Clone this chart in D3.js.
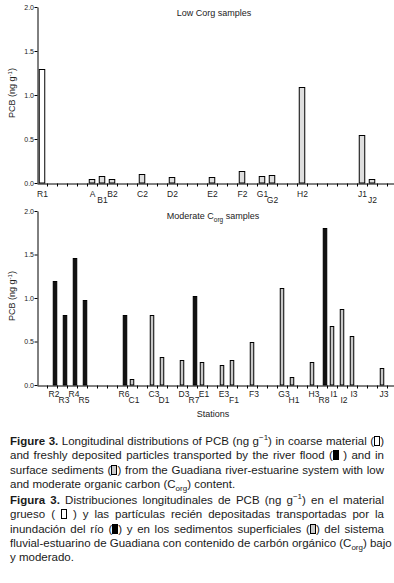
<!DOCTYPE html>
<html>
<head>
<meta charset="utf-8">
<script src="https://cdn.jsdelivr.net/npm/d3@7"></script>
<style>
    body { margin: 0; background: #fff; width: 394px; height: 583px; overflow: hidden; position: relative; color: #1a1a1a; }
    svg { position: absolute; left: 0; top: 0; font-family: "Liberation Sans", Arial, sans-serif; }
    .cap { position: absolute; left: 10px; width: 374px; font-family: "Liberation Sans Narrow", "Arial Narrow", "Liberation Sans", sans-serif; font-size: 11.5px; line-height: 14.3px; }
    .cap div { text-align: justify; text-align-last: justify; white-space: nowrap; }
    .cap div.last { text-align-last: left; }
    .cap sup, .cap sub { font-size: 8px; line-height: 0; }
    .bx { display: inline-block; width: 4px; height: 8px; border: 1px solid #000; vertical-align: -1px; }
</style>
</head>
<body>
<svg id="chart" width="394" height="430"></svg>

<div class="cap" style="top:434px">
    <div><b>Figure 3.</b> Longitudinal distributions of PCB (ng g<sup>−1</sup>) in coarse material (<span class="bx" style="background:#fff"></span>)</div>
    <div>and freshly deposited particles transported by the river flood (<span class="bx" style="background:#000"></span> ) and in</div>
    <div>surface sediments (<span class="bx" style="background:#ccc"></span>) from the Guadiana river-estuarine system with low</div>
    <div class="last">and moderate organic carbon (C<sub>org</sub>) content.</div>
</div>
<div class="cap" style="top:493px">
    <div><b>Figura 3.</b> Distribuciones longitudinales de PCB (ng g<sup>−1</sup>) en el material</div>
    <div>grueso ( <span class="bx" style="background:#fff"></span> ) y las partículas recién depositadas transportadas por la</div>
    <div>inundación del río (<span class="bx" style="background:#000"></span>) y en los sedimentos superficiales (<span class="bx" style="background:#ccc"></span>) del sistema</div>
    <div>fluvial-estuarino de Guadiana con contenido de carbón orgánico (C<sub>org</sub>) bajo</div>
    <div class="last">y moderado.</div>
</div>

<script>
// station slots along the river (36 positions on the axis)
const slotCount = 36;
const yTicks = [0, 0.5, 1.0, 1.5, 2.0];

// low Corg samples
const lowStations = ["R1", "A", "B1", "B2", "C2", "D2", "E2", "F2", "G1", "G2", "H2", "J1", "J2"];
const lowSlots    = [0, 5, 6, 7, 10, 13, 17, 20, 22, 23, 26, 32, 33];
const lowValues   = [1.30, 0.05, 0.08, 0.04, 0.10, 0.07, 0.07, 0.14, 0.08, 0.095, 1.09, 0.55, 0.05];
const lowTypes    = ["coarse", "sediment", "sediment", "sediment", "sediment", "sediment", "sediment",
                     "sediment", "sediment", "sediment", "sediment", "sediment", "sediment"];

// moderate Corg samples
const modStations = ["R2", "R3", "R4", "R5", "R6", "C1", "C3", "D1", "D3", "R7", "E1",
                     "E3", "F1", "F3", "G3", "H1", "H3", "R8", "I1", "I2", "I3", "J3"];
const modSlots    = [1, 2, 3, 4, 8, 9, 11, 12, 14, 15, 16, 18, 19, 21, 24, 25, 27, 28, 29, 30, 31, 34];
const modValues   = [1.19, 0.81, 1.46, 0.98, 0.80, 0.07, 0.80, 0.32, 0.29, 1.02, 0.26,
                     0.23, 0.29, 0.50, 1.11, 0.09, 0.26, 1.80, 0.68, 0.87, 0.56, 0.19];
const modTypes    = modStations.map(s => s[0] === "R" ? "flood" : "sediment");

const fills = { coarse: "#fff", flood: "#111", sediment: "#d6d6d6" };
const shift = { coarse: 0, flood: 3, sediment: 0 };

const svg = d3.select('#chart');

function panel(opts) {
    const data = opts.stations.map((s, i) => ({ station: s, slot: opts.slots[i], value: opts.values[i], type: opts.types[i] }));

    const x = d3.scaleBand().domain(d3.range(slotCount)).range([37, 397]);
    const xTick = d3.scaleLinear().domain([0, slotCount]).range([37, 397]);
    const y = d3.scaleLinear().domain([0, 2]).range([opts.bottom, opts.top]);

    const g = svg.append('g');

    // bars
    g.selectAll('rect')
        .data(data)
        .enter()
        .append('rect')
        .attr('x', d => x(d.slot) + x.bandwidth() / 2 + shift[d.type] - opts.barW / 2 + 0.5)
        .attr('width', opts.barW - 1)
        .attr('y', d => Math.round(y(d.value)) + 0.5)
        .attr('height', d => y(0) - Math.round(y(d.value)) - 0.5)
        .style('fill', d => d.type === "sediment" ? opts.gray : fills[d.type])
        .style('stroke', '#000')
        .style('stroke-width', 1);

    // axes
    g.append('g')
        .attr('transform', `translate(37.5,0)`)
        .call(d3.axisLeft(y).tickValues(yTicks).tickFormat(d3.format('.1f')).tickSize(3).tickSizeOuter(0))
        .call(a => a.selectAll('text').attr('font-size', 7).attr('font-family', 'Liberation Sans').attr('x', -3.5).attr('fill', '#222'));

    g.append('g')
        .attr('transform', `translate(0,${y(0) + 0.5})`)
        .call(d3.axisBottom(xTick).tickValues(d3.range(1, slotCount)).tickFormat('').tickSize(3).tickSizeOuter(0));

    g.selectAll('.domain, .tick line').attr('stroke', '#000');

    // station labels, every second crowded neighbour drops down a little
    let prev = null;
    data.forEach(d => {
        d.low = prev && d.slot - prev.slot === 1 && !prev.low;
        prev = d;
    });
    g.selectAll('.st')
        .data(data)
        .enter()
        .append('text')
        .attr('class', 'st')
        .attr('text-anchor', 'middle')
        .attr('x', d => x(d.slot) + x.bandwidth() / 2 + opts.labelShift)
        .attr('y', d => opts.labelY + (d.low ? 5.5 : 0))
        .attr('font-size', 8.5)
        .attr('fill', '#222')
        .text(d => d.station);

    // y label
    const yl = g.append('text')
        .attr('transform', `translate(15,${(opts.top + opts.bottom) / 2 - 2}) rotate(-90)`)
        .attr('text-anchor', 'middle')
        .attr('font-size', 9)
        .attr('fill', '#222');
    yl.append('tspan').text('PCB (ng g');
    yl.append('tspan').attr('font-size', 6).attr('dy', -3.5).text('-1');
    yl.append('tspan').attr('dy', 3.5).text(')');

    return g;
}

const top1 = panel({ stations: lowStations, slots: lowSlots, values: lowValues, types: lowTypes,
    top: 7, bottom: 183, barW: 6.5, gray: "#dedede", labelY: 197, labelShift: 0.5 });
top1.append('text')
    .attr('x', 214).attr('y', 16)
    .attr('text-anchor', 'middle')
    .attr('font-size', 9).attr('fill', '#222')
    .text('Low Corg samples');

const bot = panel({ stations: modStations, slots: modSlots, values: modValues, types: modTypes,
    top: 211, bottom: 385, barW: 4.5, gray: "#c8c8c8", labelY: 397, labelShift: 2 });
const mt = bot.append('text')
    .attr('x', 213).attr('y', 219)
    .attr('text-anchor', 'middle')
    .attr('font-size', 9).attr('fill', '#222');
mt.append('tspan').text('Moderate C');
mt.append('tspan').attr('font-size', 6.5).attr('dy', 2.5).text('org');
mt.append('tspan').attr('dy', -2.5).text('  samples');

bot.append('text')
    .attr('x', 213).attr('y', 417)
    .attr('text-anchor', 'middle')
    .attr('font-size', 9).attr('fill', '#222')
    .text('Stations');
</script>
</body>
</html>
